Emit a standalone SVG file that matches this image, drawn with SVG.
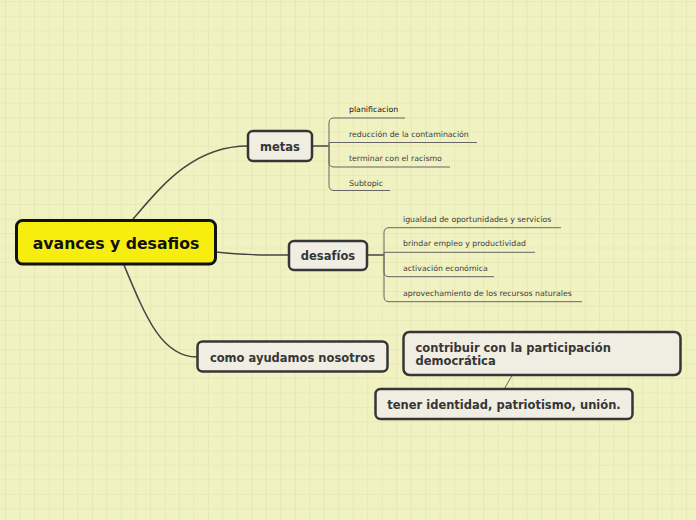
<svg xmlns="http://www.w3.org/2000/svg" width="696" height="520" viewBox="0 0 696 520">
<defs>
<pattern id="grid" patternUnits="userSpaceOnUse" x="5" y="1.2" width="14.49" height="14.49">
<path d="M0,0 H14.49 M0,0 V14.49" fill="none" stroke="#E0E2AC" stroke-width="1.2"/>
</pattern>
<style>
.node rect{fill:#F0EEE2;stroke:#363636;stroke-width:2.5}
.lbl{font-family:"DejaVu Sans",Verdana,sans-serif;font-weight:bold;font-size:11.5px;fill:#363636}
.sub{font-family:"DejaVu Sans",Verdana,sans-serif;font-size:7.8px;fill:#3C3C3C}
.main{fill:none;stroke:#444;stroke-width:1.5}
.br{fill:none;stroke:#666;stroke-width:1}
</style>
</defs>
<rect width="696" height="520" fill="#F1F2C1"/>
<rect width="696" height="520" fill="url(#grid)"/>

<g id="connectors">
<path class="main" d="M133,219 C160,188 192,146 248,146"/>
<path class="main" d="M216,252 C245,255 260,255 289,255"/>
<path class="main" d="M124,265 C146,318 162,357 197,357"/>
<path class="main" d="M312,146 H329"/>
<path class="main" d="M367,255 H384"/>
<path class="br" d="M512,375.5 L504.5,388.5"/>
<path class="br" d="M329,146 V123 Q329,118 334,118 H405"/>
<path class="br" d="M329,146 V142.5 H477"/>
<path class="br" d="M329,146 V162 Q329,167 334,167 H450"/>
<path class="br" d="M329,146 V185.5 Q329,190.5 334,190.5 H390"/>
<path class="br" d="M384,255 V232.7 Q384,227.7 389,227.7 H561"/>
<path class="br" d="M384,255 V252.3 H535"/>
<path class="br" d="M384,255 V271.7 Q384,276.7 389,276.7 H494"/>
<path class="br" d="M384,255 V296.7 Q384,301.7 389,301.7 H582"/>
</g>

<g id="central">
<rect x="16.5" y="220.5" width="199" height="43.5" rx="6" fill="#F7EE10" stroke="#111" stroke-width="3"/>
<text x="116" y="249" text-anchor="middle" font-family="DejaVu Sans,Verdana,sans-serif" font-weight="bold" font-size="15.7" fill="#111">avances y desafios</text>
</g>

<g id="metas" class="node">
<rect x="248" y="131" width="64" height="30" rx="5"/>
<text class="lbl" x="280" y="150.7" text-anchor="middle">metas</text>
</g>

<g id="desafios" class="node">
<rect x="289" y="241" width="78" height="29" rx="5"/>
<text class="lbl" x="328" y="260" text-anchor="middle">desafíos</text>
</g>

<g id="como" class="node">
<rect x="197.5" y="341.5" width="190" height="30" rx="5"/>
<text class="lbl" x="292.5" y="362" text-anchor="middle">como ayudamos nosotros</text>
</g>

<g id="contribuir" class="node">
<rect x="403.5" y="332" width="277" height="43" rx="6"/>
<text class="lbl" x="415.5" y="351.5">contribuir con la participación</text>
<text class="lbl" x="415.5" y="365">democrática</text>
</g>

<g id="tener" class="node">
<rect x="375.5" y="389" width="257" height="30" rx="5"/>
<text class="lbl" x="504" y="409" text-anchor="middle">tener identidad, patriotismo, unión.</text>
</g>

<g id="metas-subtopics">
<text class="sub" x="349" y="112" style="fill:#111">planificacion</text>
<text class="sub" x="349" y="136.7">reducción de la contaminación</text>
<text class="sub" x="349" y="161">terminar con el racismo</text>
<text class="sub" x="349" y="185.7">Subtopic</text>
</g>

<g id="desafios-subtopics">
<text class="sub" x="403" y="221.5">igualdad de oportunidades y servicios</text>
<text class="sub" x="403" y="246">brindar empleo y productividad</text>
<text class="sub" x="403" y="270.5">activación económica</text>
<text class="sub" x="403" y="296">aprovechamiento de los recursos naturales</text>
</g>
</svg>
